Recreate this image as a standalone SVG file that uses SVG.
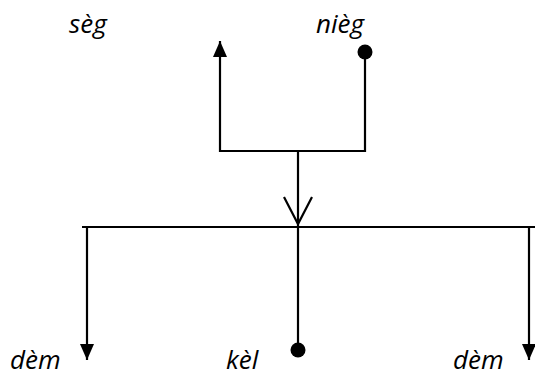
<svg xmlns="http://www.w3.org/2000/svg" width="535" height="376" viewBox="0 0 535 376">
<style>
.ln{stroke:#000;stroke-width:2.2;fill:none}
.lb{font-family:"Open Sans","DejaVu Sans",sans-serif;font-style:italic;font-size:26px;fill:#000}
</style>
<defs>
<marker id="tri" viewBox="0 0 16 14" refX="16" refY="7" markerWidth="16" markerHeight="14" markerUnits="userSpaceOnUse" orient="auto">
<path d="M0,0 L16,7 L0,14 Z" fill="#000"/>
</marker>
</defs>
<rect width="535" height="376" fill="#fff"/>
<g id="connectors">
<polyline class="ln" points="220,151 365,151 365,56"/>
<line class="ln" x1="298" y1="151" x2="298" y2="227"/>
<polyline class="ln" points="284,197 298,224 312,197"/>
<line class="ln" x1="82" y1="227" x2="535" y2="227"/>
<line class="ln" x1="87" y1="227" x2="87" y2="360" marker-end="url(#tri)"/>
<line class="ln" x1="298" y1="227" x2="298" y2="345"/>
<line class="ln" x1="529" y1="227" x2="529" y2="360" marker-end="url(#tri)"/>
<line class="ln" x1="220" y1="152" x2="220" y2="41" marker-end="url(#tri)"/>
</g>
<g id="node-seg"><text class="lb" x="69" y="33">sèg</text></g>
<g id="node-nieg"><circle cx="365" cy="52" r="7.5" fill="#000"/><text class="lb" x="316" y="33">nièg</text></g>
<g id="node-dem1"><text class="lb" x="10" y="369">dèm</text></g>
<g id="node-kel"><circle cx="298" cy="350" r="7.5" fill="#000"/><text class="lb" x="226" y="369">kèl</text></g>
<g id="node-dem2"><text class="lb" x="453" y="369">dèm</text></g>
</svg>
